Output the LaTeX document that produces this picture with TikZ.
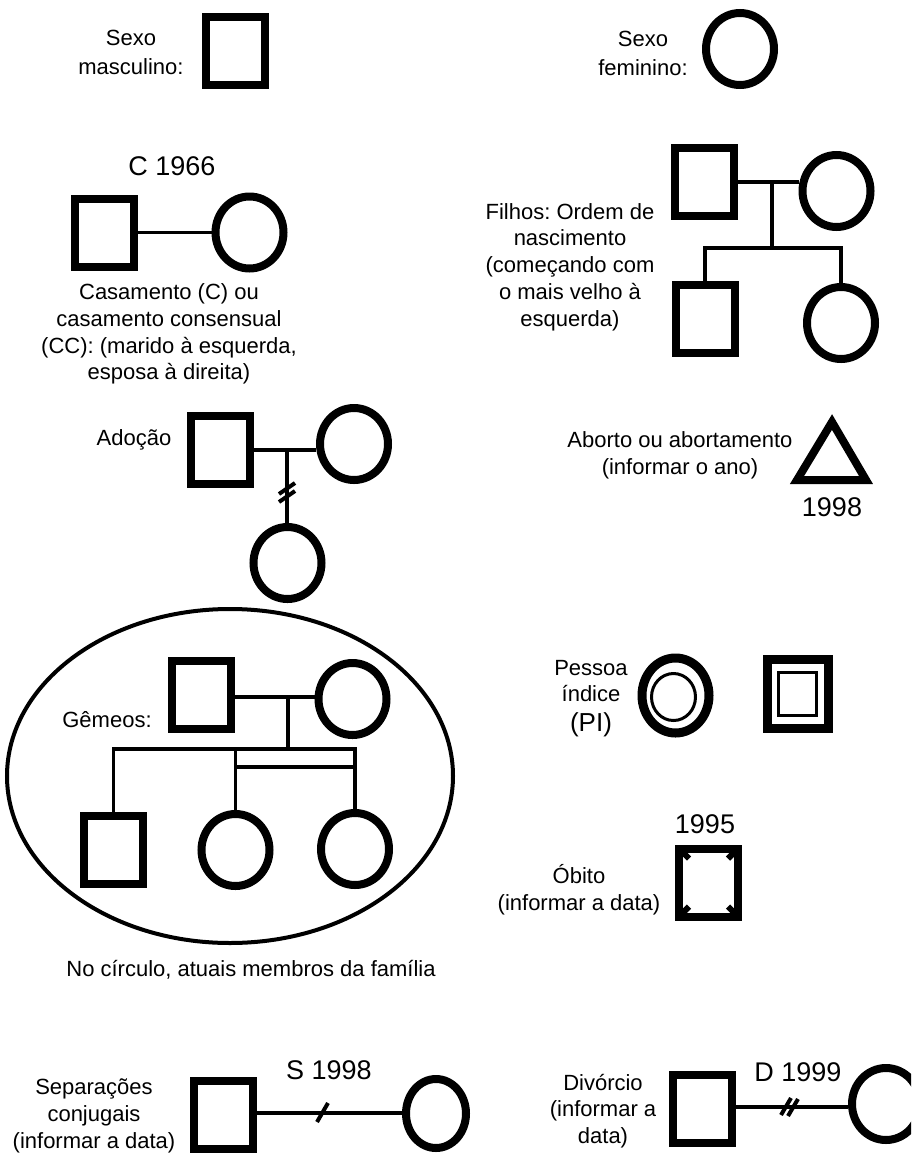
\documentclass[tikz,border=0pt]{standalone}
\usepackage{fontspec}
\setmainfont{Liberation Sans}
\usetikzlibrary{shapes.geometric,calc}
\frenchspacing

\begin{document}
\begin{tikzpicture}[x=1pt,y=-1pt,
  male/.style={draw, rectangle, line width=8pt, minimum width=59pt, minimum height=68pt, inner sep=0pt},
  female/.style={draw, ellipse, line width=8pt, minimum width=68pt, minimum height=72pt, inner sep=0pt},
  lbl/.style={font=\fontsize{22}{26.7}\selectfont, align=center, inner sep=0pt},
  year/.style={font=\fontsize{27}{30}\selectfont, inner sep=0pt},
  tie/.style={line width=3.5pt},
  kin/.style={line width=4.5pt},
  slash/.style={line width=4pt},
]
\clip (0,0) rectangle (911,1160);
\fill[white] (0,0) rectangle (911,1160);

% --- sex symbols
\node[lbl, font=\fontsize{22}{29}\selectfont] (tm) at (131,52) {Sexo\\masculino:};
\node[male] (m0) at (235.5,51) {};
\node[lbl, font=\fontsize{22}{29}\selectfont] (tf) at (643,53) {Sexo\\feminino:};
\node[female] (f0) at (740,49) {};

% --- marriage
\node[year] (cy) at (172,166) {C 1966};
\node[male] (cm) at (104,232.5) {};
\node[female] (cf) at (249.5,232.5) {};
\draw[tie] (cm) -- (cf);
\node[lbl] (ct) at (169,334) {Casamento (C) ou\\casamento consensual\\(CC): (marido à esquerda,\\esposa à direita)};

% --- children in birth order
\node[male] (pa) at (704,181.5) {};
\node[female] (ma) at (836.5,191) {};
\node[male] (s1) at (705,318.5) {};
\node[female] (d1) at (841,323) {};
\coordinate (pm) at (772,182);
\coordinate (pl) at (772,248);
\draw[kin] (pa.east |- pm) -- (ma.west |- pm);
\draw[kin] (pm) -- (pl);
\draw[kin] (s1.north) |- (pl) -| (d1.north);
\node[lbl] (ft) at (570,267) {Filhos: Ordem de\\nascimento\\(começando com\\o mais velho à\\esquerda)};

% --- adoption
\node[lbl] (at) at (134,440) {Adoção};
\node[male] (ah) at (220.5,449.5) {};
\node[female] (aw) at (354,444) {};
\node[female] (ac) at (287.5,563) {};
\coordinate (am) at (287,450);
\draw[tie] (ah.east |- am) -- (aw.west |- am);
\draw[tie] (am) -- (am |- ac.north);
\draw[slash] ($(am)+(-8,44)$) -- ++(16,-11);
\draw[slash] ($(am)+(-8,52)$) -- ++(16,-11);

% --- miscarriage
\node[lbl] (abt) at (680,455) {Aborto ou abortamento\\(informar o ano)};
\draw[line width=8pt, line join=miter] (832,422) -- (866,480) -- (797,480) -- cycle;
\node[year] (aby) at (832,507) {1998};

% --- twins inside the household circle
\node[draw, ellipse, line width=4pt, minimum width=446pt, minimum height=334pt] (fam) at (230,776) {};
\node[lbl] (gt) at (107,720) {Gêmeos:};
\node[male] (gf) at (201.5,694.5) {};
\node[female] (gm) at (352.5,699) {};
\node[male] (gs) at (113.5,849.5) {};
\node[female] (g1) at (235.5,850) {};
\node[female] (g2) at (355,849) {};
\coordinate (gmid) at (288,697);
\coordinate (gsib) at (288,749);
\coordinate (gbar) at (0,767);
\draw[tie] (gf.east |- gmid) -- (gm.west |- gmid);
\draw[tie] (gmid) -- (gsib);
\draw[tie] (gs.north) |- (gsib) -| (g2.north);
\draw[tie] (g1.north) -- (g1.north |- gsib);
\draw[tie] (g1.north |- gbar) -- (g2.north |- gbar);
\node[lbl] (nt) at (251,970) {No círculo, atuais membros da família};

% --- index person
\node[lbl] (pt) at (591,681) {Pessoa\\índice};
\node[inner sep=0pt, font=\fontsize{26}{30}\selectfont] (pi) at (591,725) {(PI)};
\node[female, line width=9pt, minimum width=67pt, minimum height=75pt] (pc) at (675.5,695.5) {};
\node[draw, ellipse, line width=3pt, minimum width=44pt, minimum height=47pt] (pci) at (673.5,697) {};
\node[male, line width=9pt, minimum width=61pt, minimum height=69pt] (pq) at (798,694) {};
\node[draw, line width=3pt, minimum width=38pt, minimum height=43pt, inner sep=0pt] (pqi) at (797.5,694) {};

% --- death
\node[year] (dy) at (705,824) {1995};
\node[male] (dd) at (708.5,882.5) {};
\foreach \c/\sx/\sy in {north west/1/1, north east/-1/1, south west/1/-1, south east/-1/-1}
  \draw[line width=6pt] ($(dd.\c)+(6*\sx,6*\sy)$) -- ++(8*\sx,8*\sy);
\node[lbl] (dt) at (579,890) {Óbito\\(informar a data)};

% --- separation
\node[lbl] (st) at (94,1116) {Separações\\conjugais\\(informar a data)};
\node[male] (sm) at (223.5,1114.5) {};
\node[female, minimum width=60pt, minimum height=69pt] (sf) at (436,1113.5) {};
\coordinate (sl) at (0,1113);
\draw[tie] (sm.east |- sl) -- (sf.west |- sl);
\coordinate (sx) at (322,1113);
\draw[slash] ($(sx)+(-5,9)$) -- ++(11,-19);
\node[year] (sy) at (329,1070) {S 1998};

% --- divorce
\node[lbl] (vt) at (603,1111) {Divórcio\\(informar a\\data)};
\node[male] (vm) at (702,1108.5) {};
\node[female] (vf) at (886,1104) {};
\coordinate (vl) at (0,1107);
\draw[tie] (vm.east |- vl) -- (vf.west |- vl);
\coordinate (vx) at (789,1107);
\draw[slash] ($(vx)+(-8,8)$) -- ++(10,-17);
\draw[slash] ($(vx)+(-1,9)$) -- ++(10,-17);
\node[year] (vy) at (798,1072) {D 1999};
\end{tikzpicture}
\end{document}
